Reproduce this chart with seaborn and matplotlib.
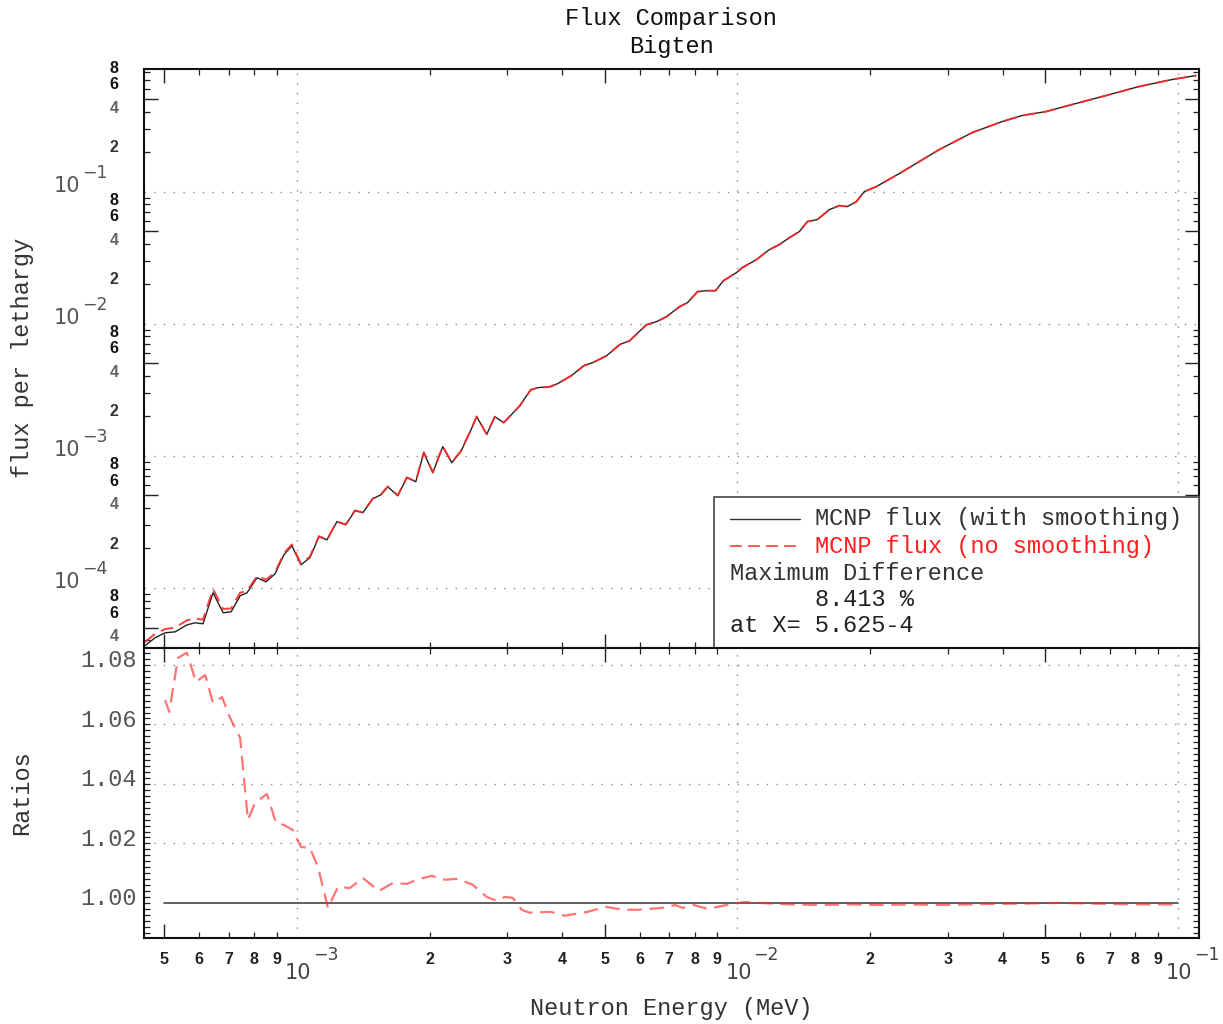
import numpy as np
import pandas as pd
import matplotlib
matplotlib.use("Agg")
import matplotlib.pyplot as plt
import matplotlib.transforms as mtransforms
from matplotlib.ticker import LogLocator, MultipleLocator
from matplotlib.patches import Rectangle
from matplotlib.lines import Line2D
import seaborn as sns

# ---------------- data ----------------
energy = [4.52e-4, 4.76e-4, 5.02e-4, 5.29e-4, 5.63e-4, 5.87e-4, 6.12e-4, 6.45e-4, 6.80e-4, 7.09e-4,
          7.43e-4, 7.70e-4, 8.12e-4, 8.51e-4, 8.92e-4, 9.34e-4, 9.74e-4, 1.021e-3, 1.070e-3, 1.122e-3,
          1.170e-3, 1.232e-3, 1.291e-3, 1.354e-3, 1.411e-3, 1.487e-3, 1.551e-3, 1.608e-3, 1.694e-3, 1.776e-3,
          1.861e-3, 1.941e-3, 2.034e-3, 2.143e-3, 2.246e-3, 2.354e-3, 2.467e-3, 2.559e-3, 2.697e-3, 2.812e-3,
          2.948e-3, 3.205e-3, 3.394e-3, 3.520e-3, 3.748e-3, 3.907e-3, 4.226e-3, 4.476e-3, 4.690e-3, 5.047e-3,
          5.400e-3, 5.689e-3, 6.219e-3, 6.552e-3, 6.902e-3, 7.387e-3, 7.701e-3, 8.114e-3, 8.504e-3, 8.916e-3,
          9.296e-3, 9.948e-3, 1.026e-2, 1.104e-2, 1.181e-2, 1.245e-2, 1.312e-2, 1.382e-2, 1.441e-2, 1.518e-2,
          1.617e-2, 1.703e-2, 1.776e-2, 1.861e-2, 1.941e-2, 2.066e-2, 2.330e-2, 2.871e-2, 3.412e-2, 3.990e-2,
          4.429e-2, 5.020e-2, 5.748e-2, 6.866e-2, 8.155e-2, 9.692e-2, 0.1099]

flux_smooth = [3.64e-5, 4.18e-5, 4.56e-5, 4.64e-5, 5.24e-5, 5.43e-5, 5.34e-5, 9.16e-5, 6.47e-5, 6.58e-5,
               8.70e-5, 9.16e-5, 1.191e-4, 1.110e-4, 1.277e-4, 1.778e-4, 2.080e-4, 1.494e-4, 1.688e-4, 2.434e-4,
               2.309e-4, 3.162e-4, 3.001e-4, 3.831e-4, 3.700e-4, 4.723e-4, 5.065e-4, 5.824e-4, 4.977e-4, 6.812e-4,
               6.353e-4, 1.054e-3, 7.43e-4, 1.170e-3, 8.85e-4, 1.072e-3, 1.494e-3, 1.975e-3, 1.45e-3, 1.975e-3,
               1.778e-3, 2.391e-3, 3.162e-3, 3.275e-3, 3.332e-3, 3.512e-3, 4.108e-3, 4.806e-3, 5.065e-3, 5.723e-3,
               6.934e-3, 7.430e-3, 9.83e-3, 1.036e-2, 1.130e-2, 1.345e-2, 1.443e-2, 1.747e-2, 1.778e-2, 1.778e-2,
               2.118e-2, 2.434e-2, 2.656e-2, 3.053e-2, 3.636e-2, 3.967e-2, 4.482e-2, 4.977e-2, 5.926e-2, 6.137e-2,
               7.304e-2, 7.832e-2, 7.697e-2, 8.400e-2, 0.1, 0.1091, 0.1369, 0.2080, 0.2799, 0.3391,
               0.3766, 0.4037, 0.4561, 0.5337, 0.6245, 0.7056, 0.7566]

ratio_energy = [5.02e-4, 5.13e-4, 5.37e-4, 5.625e-4, 5.90e-4, 6.19e-4, 6.45e-4, 6.76e-4, 7.05e-4, 7.43e-4,
                7.74e-4, 8.03e-4, 8.55e-4, 8.96e-4, 9.34e-4, 9.79e-4, 1.021e-3, 1.070e-3, 1.116e-3, 1.176e-3,
                1.239e-3, 1.319e-3, 1.411e-3, 1.535e-3, 1.651e-3, 1.776e-3, 1.901e-3, 2.024e-3, 2.166e-3, 2.318e-3,
                2.506e-3, 2.697e-3, 2.841e-3, 2.964e-3, 3.090e-3, 3.237e-3, 3.376e-3, 3.767e-3, 4.053e-3, 4.570e-3,
                5.020e-3, 5.486e-3, 5.964e-3, 6.724e-3, 7.234e-3, 7.505e-3, 7.947e-3, 8.551e-3, 9.443e-3, 1.037e-2,
                1.116e-2, 1.312e-2, 1.535e-2, 1.795e-2, 2.099e-2, 2.455e-2, 2.871e-2, 3.358e-2, 3.928e-2, 4.593e-2,
                5.373e-2, 6.283e-2, 7.348e-2, 8.595e-2, 1.0e-1]

ratio_nosmooth = [1.0682, 1.0642, 1.0824, 1.0841, 1.0743, 1.0766, 1.0672, 1.0692, 1.0622, 1.0555,
                  1.0279, 1.0336, 1.0366, 1.0269, 1.0262, 1.0245, 1.0188, 1.0185, 1.0121, 0.9983,
                  1.0054, 1.0050, 1.0084, 1.0040, 1.0067, 1.0064, 1.0081, 1.0091, 1.0078, 1.0081,
                  1.0061, 1.0020, 1.0007, 1.0020, 1.0017, 0.9977, 0.9967, 0.9970, 0.9957, 0.9970,
                  0.9987, 0.9977, 0.9977, 0.9983, 0.9993, 0.9983, 0.9993, 0.9980, 0.9993, 1.0003,
                  1.0000, 0.9995, 0.9993, 0.9995, 0.9993, 0.9995, 0.9993, 0.9995, 0.9997, 0.9998,
                  1.0000, 0.9998, 0.9996, 0.9995, 0.9995]

ratio_smooth_energy = [5.0e-4, 1.0e-1]
ratio_smooth = [1.0, 1.0]

title_lines = ["Flux Comparison", "Bigten"]
series_labels = ["MCNP flux (with smoothing)", "MCNP flux (no smoothing)"]
note_lines = ["Maximum Difference", "8.413 %", "at X= 5.625-4"]
ratio_ticks = [1.00, 1.02, 1.04, 1.06, 1.08]
x_decades = [1e-4, 1e-3, 1e-2, 1e-1]
y_decades = [1e-5, 1e-4, 1e-3, 1e-2, 1e-1]
x_label = "Neutron Energy (MeV)"
y_label_top = "flux per lethargy"
y_label_bottom = "Ratios"

# red flux = smoothed flux times the plotted ratio
flux_nosmooth = np.array(flux_smooth) * np.interp(np.log10(energy), np.log10(ratio_energy), ratio_nosmooth)

# ---------------- style ----------------
sns.set_style("white")
MONO = "Liberation Mono"
plt.rcParams['font.family'] = [MONO, 'DejaVu Sans']
plt.rcParams['axes.unicode_minus'] = True

W, H = 1223, 1024
fig = plt.figure(figsize=(W / 100, H / 100), dpi=100)
L, R = 144, 1198.5
TOP, MID, BOT = 68.5, 648, 938
ax1 = fig.add_axes([L / W, 1 - MID / H, (R - L) / W, (MID - TOP) / H])
ax2 = fig.add_axes([L / W, 1 - BOT / H, (R - L) / W, (BOT - MID) / H])

XLIM = (4.496e-4, 0.1113)
YLIM1 = (3.5e-5, 0.855)
YLIM2 = (0.9882, 1.0857)

RED = '#ff2a2a'
GRID = dict(color='#8a8a8a', lw=1.0, ls=(0, (1, 6)), zorder=0.5)
DIGIT_FONT = dict(fontsize=11.5, fontweight='bold', family='Liberation Sans')

for ax in (ax1, ax2):
    ax.set_xscale('log')
ax1.set_yscale('log')

# ---------------- lines ----------------
df_top = pd.DataFrame({'E': energy, 'smooth': flux_smooth, 'nosmooth': flux_nosmooth})
sns.lineplot(data=df_top, x='E', y='smooth', ax=ax1, color='#222222', lw=1.0,
             sort=False, estimator=None, zorder=3)
sns.lineplot(data=df_top, x='E', y='nosmooth', ax=ax1, color=RED, lw=1.4, alpha=0.9,
             linestyle=(0, (6.5, 3.5)), sort=False, estimator=None, zorder=4)

df_ratio = pd.DataFrame({'E': ratio_energy, 'r': ratio_nosmooth})
sns.lineplot(x=ratio_smooth_energy, y=ratio_smooth, ax=ax2, color='#444444', lw=1.2,
             sort=False, estimator=None, zorder=3)
sns.lineplot(data=df_ratio, x='E', y='r', ax=ax2, color=RED, lw=1.6, alpha=0.65,
             linestyle=(0, (6.5, 3.5)), sort=False, estimator=None, zorder=4)

for ax in (ax1, ax2):
    ax.set_xlim(*XLIM)
    ax.set_xlabel('')
    ax.set_ylabel('')
ax1.set_ylim(*YLIM1)
ax2.set_ylim(*YLIM2)

# ---------------- grid ----------------
for d in x_decades:
    if XLIM[0] < d < XLIM[1]:
        ax1.axvline(d, **GRID)
        ax2.axvline(d, **GRID)
for d in y_decades:
    if YLIM1[0] < d < YLIM1[1]:
        ax1.axhline(d, **GRID)
for v in ratio_ticks[1:]:
    ax2.axhline(v, **GRID)

# ---------------- ticks ----------------
for ax in (ax1, ax2):
    ax.xaxis.set_major_locator(LogLocator(base=10, subs=(5.0,)))
    ax.xaxis.set_minor_locator(LogLocator(base=10, subs=(2, 3, 4, 6, 7, 8, 9)))
    ax.tick_params(which='both', direction='in', top=True, right=True, bottom=True, left=True,
                   labelbottom=False, labelleft=False, labeltop=False, labelright=False, color='#222')
    for s in ax.spines.values():
        s.set_linewidth(1.5)
        s.set_color('#111')
ax1.yaxis.set_major_locator(LogLocator(base=10, subs=(5.0,)))
ax1.yaxis.set_minor_locator(LogLocator(base=10, subs=(2, 3, 4, 6, 7, 8, 9)))
ax1.tick_params(which='major', length=10, width=1.0)
ax1.tick_params(which='minor', length=4.5, width=0.9)
ax2.tick_params(axis='x', which='major', length=10, width=1.0)
ax2.tick_params(axis='x', which='minor', length=4.5, width=0.9)
ax2.yaxis.set_major_locator(MultipleLocator(0.02))
ax2.yaxis.set_minor_locator(MultipleLocator(0.002))
ax2.tick_params(axis='y', which='both', length=4, width=0.9)


def txt(ax, x, y, s, xt='data', yt='data', dx=0, dy=0, **kw):
    tx = ax.transData if xt == 'data' else ax.transAxes
    ty = ax.transData if yt == 'data' else ax.transAxes
    tr = mtransforms.blended_transform_factory(tx, ty)
    tr = mtransforms.offset_copy(tr, fig=fig, x=dx, y=dy, units='dots')
    ax.text(x, y, s, transform=tr, clip_on=False, **kw)


def sup(n):
    return '\u2212' + str(abs(n)) if n < 0 else str(n)


# top panel y tick labels
minor_col = {2: '#333333', 4: '#666666', 6: '#111111', 8: '#111111'}
for d in y_decades:
    for m in (2, 4, 6, 8):
        v = m * d
        if YLIM1[0] <= v <= YLIM1[1]:
            txt(ax1, 0, v, str(m), xt='axes', dx=-30, dy=4, ha='center', va='center',
                color=minor_col[m], **DIGIT_FONT)
    if YLIM1[0] < d < YLIM1[1]:
        e = int(round(np.log10(d)))
        txt(ax1, 0, d, '10', xt='axes', dx=-64, dy=0, ha='right', va='baseline',
            fontsize=15, family='DejaVu Sans', color='#555555')
        txt(ax1, 0, d, sup(e), xt='axes', dx=-62, dy=14, ha='left', va='baseline',
            fontsize=12.5, family='DejaVu Sans', color='#555555')

# ratio y tick labels
for v in ratio_ticks:
    txt(ax2, 0, v, f"{v:.2f}", xt='axes', dx=-7, dy=4, ha='right', va='center',
        fontsize=17, family=MONO, color='#555555')

# bottom x tick labels
for d in x_decades:
    for m in range(2, 10):
        v = m * d
        if XLIM[0] <= v <= XLIM[1]:
            txt(ax2, v, 0, str(m), yt='axes', dy=-21, ha='center', va='center',
                color='#222222', **DIGIT_FONT)
    if XLIM[0] < d < XLIM[1]:
        e = int(round(np.log10(d)))
        txt(ax2, d, 0, '10', yt='axes', dx=1, dy=-35, ha='center', va='center',
            fontsize=15, family='DejaVu Sans', color='#444444')
        txt(ax2, d, 0, sup(e), yt='axes', dx=16, dy=-17, ha='left', va='center',
            fontsize=12.5, family='DejaVu Sans', color='#444444')

# ---------------- legend box ----------------
bx0 = (714 - L) / (R - L)
btop = (MID - 497) / (MID - TOP)
ax1.add_patch(Rectangle((bx0, 0), 1 - bx0, btop, transform=ax1.transAxes, facecolor='white',
                        edgecolor='#555555', lw=1.3, zorder=6, clip_on=False))


def ax1y(py):
    return (MID - py) / (MID - TOP)


def ax1x(px):
    return (px - L) / (R - L)


ax1.add_line(Line2D([ax1x(730), ax1x(800)], [ax1y(519)] * 2, transform=ax1.transAxes,
                    color='#333333', lw=1.0, zorder=7))
ax1.add_line(Line2D([ax1x(730), ax1x(800)], [ax1y(546)] * 2, transform=ax1.transAxes,
                    color=RED, lw=1.3, ls=(0, (6.5, 3.5)), alpha=0.85, zorder=7))
ax1.text(ax1x(815), ax1y(519), series_labels[0], transform=ax1.transAxes, ha='left', va='center',
         fontsize=17, family=MONO, color='#333333', zorder=8)
ax1.text(ax1x(815), ax1y(546), series_labels[1], transform=ax1.transAxes, ha='left', va='center',
         fontsize=17, family=MONO, color='#ff2020', zorder=8)
ax1.text(ax1x(730), ax1y(573), note_lines[0], transform=ax1.transAxes, ha='left', va='center',
         fontsize=17, family=MONO, color='#333333', zorder=8)
ax1.text(ax1x(815), ax1y(599), note_lines[1], transform=ax1.transAxes, ha='left', va='center',
         fontsize=17, family=MONO, color='#222222', zorder=8)
ax1.text(ax1x(730), ax1y(626), note_lines[2], transform=ax1.transAxes, ha='left', va='center',
         fontsize=17, family=MONO, color='#222222', zorder=8)

# ---------------- titles / labels ----------------
cx = (L + R) / 2 / W
fig.text(cx, 1 - 19 / H, title_lines[0], ha='center', va='center', fontsize=17, family=MONO, color='#111111')
fig.text(cx, 1 - 46 / H, title_lines[1], ha='center', va='center', fontsize=17, family=MONO, color='#111111')
fig.text(cx, 1 - 1008 / H, x_label, ha='center', va='center', fontsize=17, family=MONO, color='#333333')
fig.text(22 / W, 1 - 358 / H, y_label_top, rotation=90, ha='center', va='center', fontsize=17,
         family=MONO, color='#333333')
fig.text(22 / W, 1 - 793 / H, y_label_bottom, rotation=90, ha='center', va='center', fontsize=17,
         family=MONO, color='#333333')

fig.savefig('out.png', dpi=100, facecolor='white')
